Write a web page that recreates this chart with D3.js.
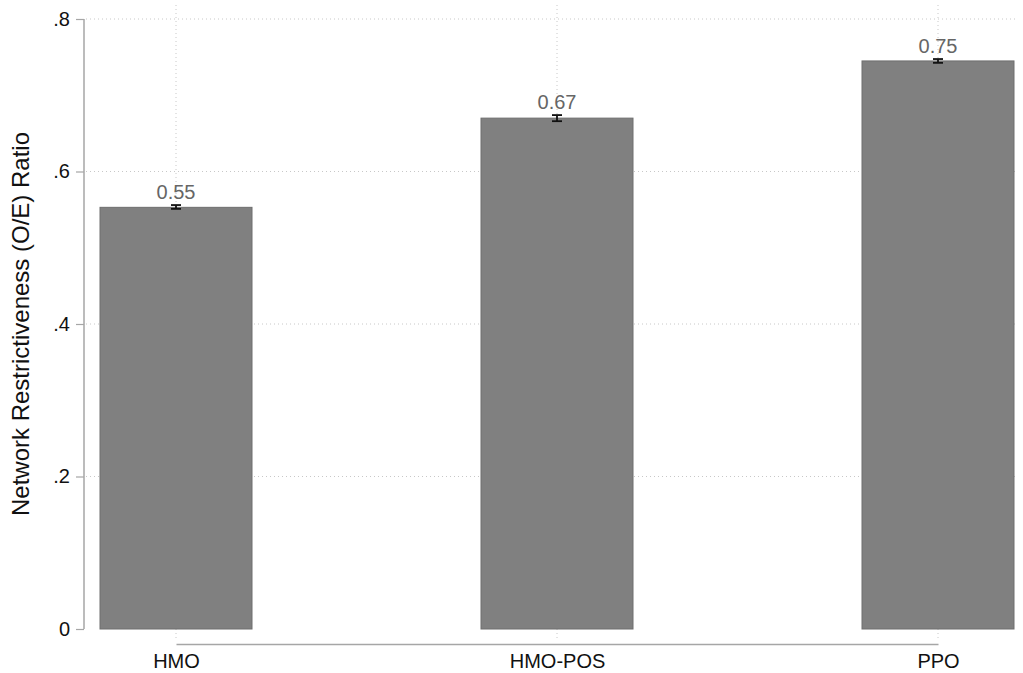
<!DOCTYPE html>
<html>
<head>
<meta charset="utf-8">
<script src="https://cdn.jsdelivr.net/npm/d3@7"></script>
<style>
  body { margin: 0; background: #fff; }
  text { font-family: "Liberation Sans", Arial, sans-serif; }
</style>
</head>
<body>
<div id="container"></div>
<script>
/* CONSTANTS AND GLOBALS */
const width = 1023,
  height = 673,
  margin = { top: 19, bottom: 44, left: 84, right: 9 };

// data
const planTypes = ["HMO", "HMO-POS", "PPO"];
const ratios = [0.553, 0.670, 0.745];
const ciLow = [0.551, 0.666, 0.7425];
const ciHigh = [0.556, 0.674, 0.7475];
const valueLabels = ["0.55", "0.67", "0.75"];
const yTicks = [0, 0.2, 0.4, 0.6, 0.8];
const yTickLabels = ["0", ".2", ".4", ".6", ".8"];

const bars = planTypes.map((p, i) => ({
  plan: p, value: ratios[i], lo: ciLow[i], hi: ciHigh[i], label: valueLabels[i]
}));

const svg = d3.select("#container")
  .append("svg")
  .attr("width", width)
  .attr("height", height);

// y scale: 0 at 629, .8 at 19
const yScale = d3.scaleLinear()
  .domain([0, 0.8])
  .range([629, 19]);

// three evenly spaced categories
const xScale = d3.scalePoint()
  .domain(planTypes)
  .range([176, 938]);
const barWidth = 152;

// gridlines (dotted, light grey)
svg.append("g")
  .selectAll("line.hgrid")
  .data(yTicks.filter(d => d > 0))
  .join("line")
  .attr("class", "hgrid")
  .attr("x1", margin.left + 2)
  .attr("x2", width - 8)
  .attr("y1", d => yScale(d))
  .attr("y2", d => yScale(d))
  .attr("stroke", "#c8c8c8")
  .attr("stroke-width", 1)
  .attr("stroke-dasharray", "1,3");

svg.append("g")
  .selectAll("line.vgrid")
  .data(planTypes)
  .join("line")
  .attr("class", "vgrid")
  .attr("x1", d => xScale(d))
  .attr("x2", d => xScale(d))
  .attr("y1", 5)
  .attr("y2", 641)
  .attr("stroke", "#c8c8c8")
  .attr("stroke-width", 1)
  .attr("stroke-dasharray", "1,3");

// bars
svg.append("g")
  .selectAll("rect.bar")
  .data(bars)
  .join("rect")
  .attr("class", "bar")
  .attr("x", d => xScale(d.plan) - barWidth / 2)
  .attr("width", barWidth)
  .attr("y", d => yScale(d.value))
  .attr("height", d => yScale(0) - yScale(d.value))
  .attr("fill", "#808080")
  .attr("stroke", "#6e6e6e")
  .attr("stroke-width", 1);

// error bars
const err = svg.append("g").attr("stroke", "#111").attr("stroke-width", 1.8);
err.selectAll("line.stem")
  .data(bars)
  .join("line")
  .attr("x1", d => xScale(d.plan))
  .attr("x2", d => xScale(d.plan))
  .attr("y1", d => yScale(d.lo))
  .attr("y2", d => yScale(d.hi));
err.selectAll("line.capTop")
  .data(bars)
  .join("line")
  .attr("x1", d => xScale(d.plan) - 5)
  .attr("x2", d => xScale(d.plan) + 5)
  .attr("y1", d => yScale(d.hi))
  .attr("y2", d => yScale(d.hi));
err.selectAll("line.capBot")
  .data(bars)
  .join("line")
  .attr("x1", d => xScale(d.plan) - 5)
  .attr("x2", d => xScale(d.plan) + 5)
  .attr("y1", d => yScale(d.lo))
  .attr("y2", d => yScale(d.lo));

// value labels
svg.append("g")
  .selectAll("text.val")
  .data(bars)
  .join("text")
  .attr("class", "val")
  .attr("x", d => xScale(d.plan))
  .attr("y", d => yScale(d.hi) - 6)
  .attr("text-anchor", "middle")
  .attr("font-size", 20)
  .attr("fill", "#666")
  .text(d => d.label);

// y axis
const yAxis = d3.axisLeft(yScale)
  .tickValues(yTicks)
  .tickFormat((d, i) => yTickLabels[i])
  .tickSize(8)
  .tickPadding(6);

const yAxisGroup = svg.append("g")
  .attr("class", "yAxis")
  .attr("transform", `translate(${margin.left}, 0)`)
  .call(yAxis);
yAxisGroup.select(".domain").remove();
yAxisGroup.append("line")
  .attr("x1", 0).attr("x2", 0)
  .attr("y1", yScale(0.8)).attr("y2", yScale(0))
  .attr("stroke", "#a6a6a6")
  .attr("stroke-width", 1.5);
yAxisGroup.selectAll(".tick line").attr("stroke", "#a6a6a6").attr("stroke-width", 1.2);
yAxisGroup.selectAll(".tick text")
  .attr("font-size", 20)
  .attr("fill", "#111")
  .attr("font-family", "Liberation Sans, Arial, sans-serif");

yAxisGroup.append("text")
  .attr("transform", `translate(${-55}, ${yScale(0.4)}) rotate(-90)`)
  .attr("text-anchor", "middle")
  .attr("font-size", 24)
  .attr("fill", "#111")
  .text("Network Restrictiveness (O/E) Ratio");

// x axis
const xAxis = d3.axisBottom(xScale).tickSize(0).tickPadding(10);
const xAxisGroup = svg.append("g")
  .attr("class", "xAxis")
  .attr("transform", `translate(0, 644)`)
  .call(xAxis);
xAxisGroup.select(".domain")
  .attr("stroke", "#a6a6a6")
  .attr("stroke-width", 1.5);
xAxisGroup.selectAll(".tick text")
  .attr("font-size", 20)
  .attr("fill", "#111")
  .attr("font-family", "Liberation Sans, Arial, sans-serif");
</script>
</body>
</html>
